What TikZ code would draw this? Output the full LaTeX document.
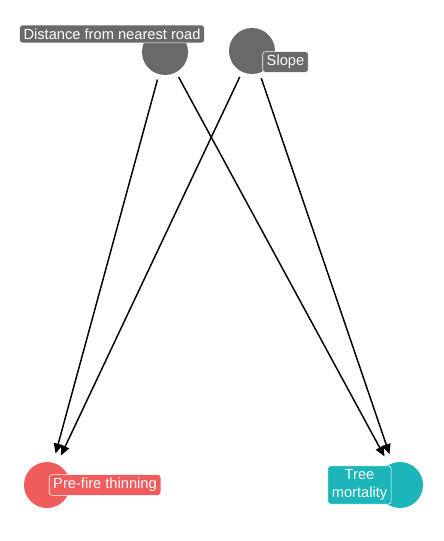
\documentclass[tikz,border=0pt]{standalone}
\usepackage{fontspec}
\setmainfont{Liberation Sans}
\usetikzlibrary{arrows.meta}

\definecolor{dagGray}{RGB}{105,105,105}
\definecolor{dagRed}{RGB}{240,92,92}
\definecolor{dagTeal}{RGB}{28,182,186}

\tikzset{
  var/.style={circle, minimum size=34.5pt, inner sep=0pt},
  lab/.style={rounded corners=2pt, draw=white, line width=0.4pt, text=white,
              inner xsep=3pt, inner ysep=2.6pt,
              font=\fontsize{11}{13.5}\selectfont},
  edge/.style={line width=1.1pt, -{Triangle[length=7.5pt,width=6.5pt]},
               shorten <=4pt, shorten >=7pt}
}

\begin{document}
\begin{tikzpicture}[x=0.75pt, y=-0.75pt]
                \useasboundingbox (0,0) rectangle (443,541);
                % variables
                \node[var, fill=dagGray] (dist) at (165,52) {};
                \node[var, fill=dagGray] (slope) at (252,51) {};
                \node[var, fill=dagRed] (thin) at (47,485) {};
                \node[var, fill=dagTeal] (mort) at (400,485) {};
                % paths
                \draw[edge] (dist) -- (thin);
                \draw[edge] (dist) -- (mort);
                \draw[edge] (slope) -- (thin);
                \draw[edge] (slope) -- (mort);
                % labels
                \node[lab, fill=dagGray] (distlab) at (112,34) {Distance from nearest road};
                \node[lab, fill=dagGray] (slopelab) at (285.5,62) {Slope};
                \node[lab, fill=dagRed] (thinlab) at (105,485) {Pre-fire thinning};
                \node[lab, fill=dagTeal, align=center] (mortlab) at (359.5,485) {Tree\\mortality};
            \end{tikzpicture}
\end{document}
